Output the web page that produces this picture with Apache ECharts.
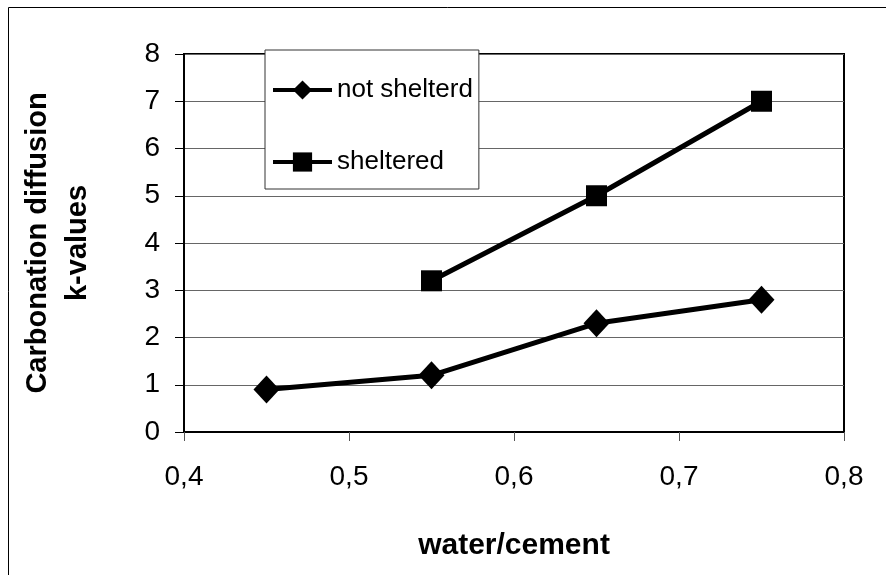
<!DOCTYPE html>
<html>
<head>
<meta charset="utf-8">
<script src="https://cdn.jsdelivr.net/npm/echarts@6/dist/echarts.min.js"></script>
<style>
html,body{margin:0;padding:0;background:#fff;}
#chart{width:886px;height:575px;}
</style>
</head>
<body>
<div id="chart"></div>
<script>
const seriesNames = ['not shelterd', 'sheltered'];
const notShelteredX = [0.45, 0.55, 0.65, 0.75];
const notShelteredY = [0.9, 1.2, 2.3, 2.8];
const shelteredX = [0.55, 0.65, 0.75];
const shelteredY = [3.2, 5.0, 7.0];
const xTicks = [0.4, 0.5, 0.6, 0.7, 0.8];
const yTicks = [0, 1, 2, 3, 4, 5, 6, 7, 8];
const xTitle = 'water/cement';
const yTitle = 'Carbonation diffusion\nk-values';

const FONT = '"Liberation Sans", Arial, sans-serif';
const chart = echarts.init(document.getElementById('chart'), null, {renderer: 'canvas'});
const pair = (xs, ys) => xs.map((x, i) => [x, ys[i]]);

chart.setOption({
  animation: false,
  backgroundColor: '#fff',
  textStyle: {fontFamily: FONT, color: '#000'},
  graphic: [{
    type: 'rect', silent: true, z: -10,
    shape: {x: 8.5, y: 7.5, width: 1000, height: 1000},
    style: {fill: 'none', stroke: '#000', lineWidth: 1}
  }],
  grid: {
    left: 184, right: 42, top: 54, bottom: 143,
    containLabel: false, outerBoundsMode: 'none',
    show: true, borderColor: '#000', borderWidth: 2, backgroundColor: 'transparent'
  },
  legend: {
    orient: 'vertical',
    left: 265, top: 50,
    backgroundColor: '#fff',
    borderColor: '#333', borderWidth: 1,
    padding: [27, 6, 14, 6],
    itemWidth: 59, itemHeight: 24,
    itemGap: 46,
    lineStyle: {width: 4},
    textStyle: {fontFamily: FONT, fontSize: 26, color: '#000'},
    data: seriesNames
  },
  xAxis: {
    type: 'value',
    min: xTicks[0], max: xTicks[xTicks.length - 1], interval: 0.1,
    name: xTitle, nameLocation: 'middle', nameGap: 99,
    nameTextStyle: {fontFamily: FONT, fontSize: 30, fontWeight: 'bold', color: '#000'},
    axisLine: {show: true, onZero: false, lineStyle: {color: '#000', width: 2}},
    axisTick: {show: true, inside: false, length: 9, lineStyle: {color: '#555', width: 1}},
    axisLabel: {margin: 31, fontSize: 28, fontFamily: FONT, color: '#000',
      formatter: v => v.toFixed(1).replace('.', ',')},
    splitLine: {show: false}
  },
  yAxis: {
    type: 'value',
    min: yTicks[0], max: yTicks[yTicks.length - 1], interval: 1,
    name: yTitle, nameLocation: 'middle', nameGap: 86, nameRotate: 90,
    nameTextStyle: {fontFamily: FONT, fontSize: 29, fontWeight: 'bold', color: '#000', lineHeight: 40},
    axisLine: {show: true, lineStyle: {color: '#000', width: 2}},
    axisTick: {show: true, inside: false, length: 9, lineStyle: {color: '#000', width: 1}},
    axisLabel: {margin: 24, fontSize: 28, fontFamily: FONT, color: '#000'},
    splitLine: {show: true, lineStyle: {color: '#666', width: 1}}
  },
  series: [
    {
      name: seriesNames[0], type: 'line',
      data: pair(notShelteredX, notShelteredY),
      symbol: 'diamond', symbolSize: [26, 28],
      lineStyle: {color: '#000', width: 5},
      itemStyle: {color: '#000', borderWidth: 0},
      z: 3
    },
    {
      name: seriesNames[1], type: 'line',
      data: pair(shelteredX, shelteredY),
      symbol: 'rect', symbolSize: 21,
      lineStyle: {color: '#000', width: 5},
      itemStyle: {color: '#000', borderWidth: 0},
      z: 3
    }
  ]
});
</script>
</body>
</html>
